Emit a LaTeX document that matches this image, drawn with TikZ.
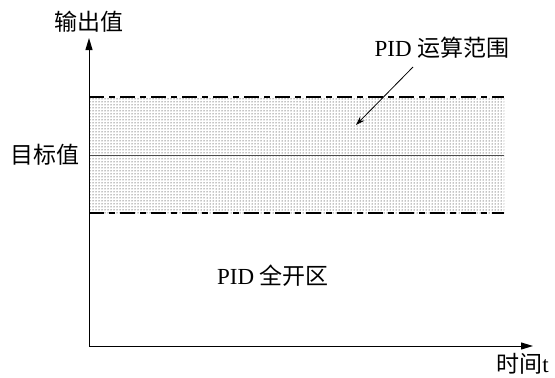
\documentclass[tikz,border=0pt]{standalone}
\usepackage{fontspec}
\setmainfont{Liberation Serif}
\newfontfamily\zhfont{Noto Sans CJK SC}
\usetikzlibrary{arrows.meta,patterns}

\begin{document}
\begin{tikzpicture}[x=1pt,y=-1pt,
  lbl/.style={font=\fontsize{23}{26}\selectfont, inner sep=0pt},
  dashdot/.style={line width=1.6pt, dash pattern=on 15pt off 5pt on 6pt off 5pt}]
\useasboundingbox (0,0) rectangle (555,378);

% band
\fill[pattern=dots, pattern color=black] (89,97) rectangle (504,213);
\draw[dashdot] (89,97) -- (504,97);
\draw[dashdot] (89,213) -- (504,213);
\draw[black!70, line width=1pt] (89,155) -- (504,155);

% axes
\coordinate (o) at (89,346);
\coordinate (ytip) at (89,38);
\coordinate (xtip) at (533,346);
\draw[line width=1pt, -{Triangle[length=12pt,width=7pt]}] (o) -- (ytip);
\draw[line width=1pt, -{Triangle[length=12pt,width=7pt]}] (o) -- (xtip);

% labels
\node[lbl] (yname) at (89,22) {\zhfont 输出值};
\node[lbl] (target) at (45,155) {\zhfont 目标值};
\node[lbl] (range) at (442,48) {PID {\zhfont 运算范围}};
\node[lbl] (open) at (273,276) {PID {\zhfont 全开区}};
\node[lbl, anchor=east] (tname) at (549,364) {{\zhfont 时间}t};

\coordinate (rtip) at (356,125);
\draw[line width=0.8pt, -{Stealth[length=9pt,width=6pt]}] (413,67) -- (rtip);
\end{tikzpicture}
\end{document}
